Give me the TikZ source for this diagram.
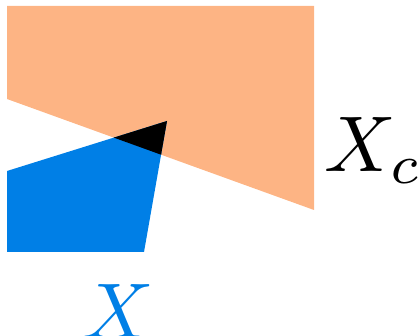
\documentclass[tikz,border=0pt]{standalone}
\begin{document}
\begin{tikzpicture}[x=1pt,y=-1pt]
\definecolor{peach}{RGB}{253,180,132}
\definecolor{xblue}{RGB}{0,127,230}
\tikzset{lbl/.style={scale=7.9,inner sep=0pt,anchor=base west}}
\useasboundingbox (0,0) rectangle (418,336);
\coordinate (o1) at (7,6);
\coordinate (o2) at (314,6);
\coordinate (o3) at (314,210);
\coordinate (o4) at (7,99);
\coordinate (b1) at (7,171);
\coordinate (b2) at (167,121);
\coordinate (b3) at (144,252);
\coordinate (b4) at (7,252);
\fill[peach] (o1) -- (o2) -- (o3) -- (o4) -- cycle;
\fill[xblue] (b1) -- (b2) -- (b3) -- (b4) -- cycle;
\begin{scope}
\clip (o1) -- (o2) -- (o3) -- (o4) -- cycle;
\fill[black] (b1) -- (b2) -- (b3) -- (b4) -- cycle;
\end{scope}
\node[lbl] (xc) at (323,172) {$X_c$};
\node[lbl,text=xblue] (x) at (81,339) {$X$};
\end{tikzpicture}
\end{document}
